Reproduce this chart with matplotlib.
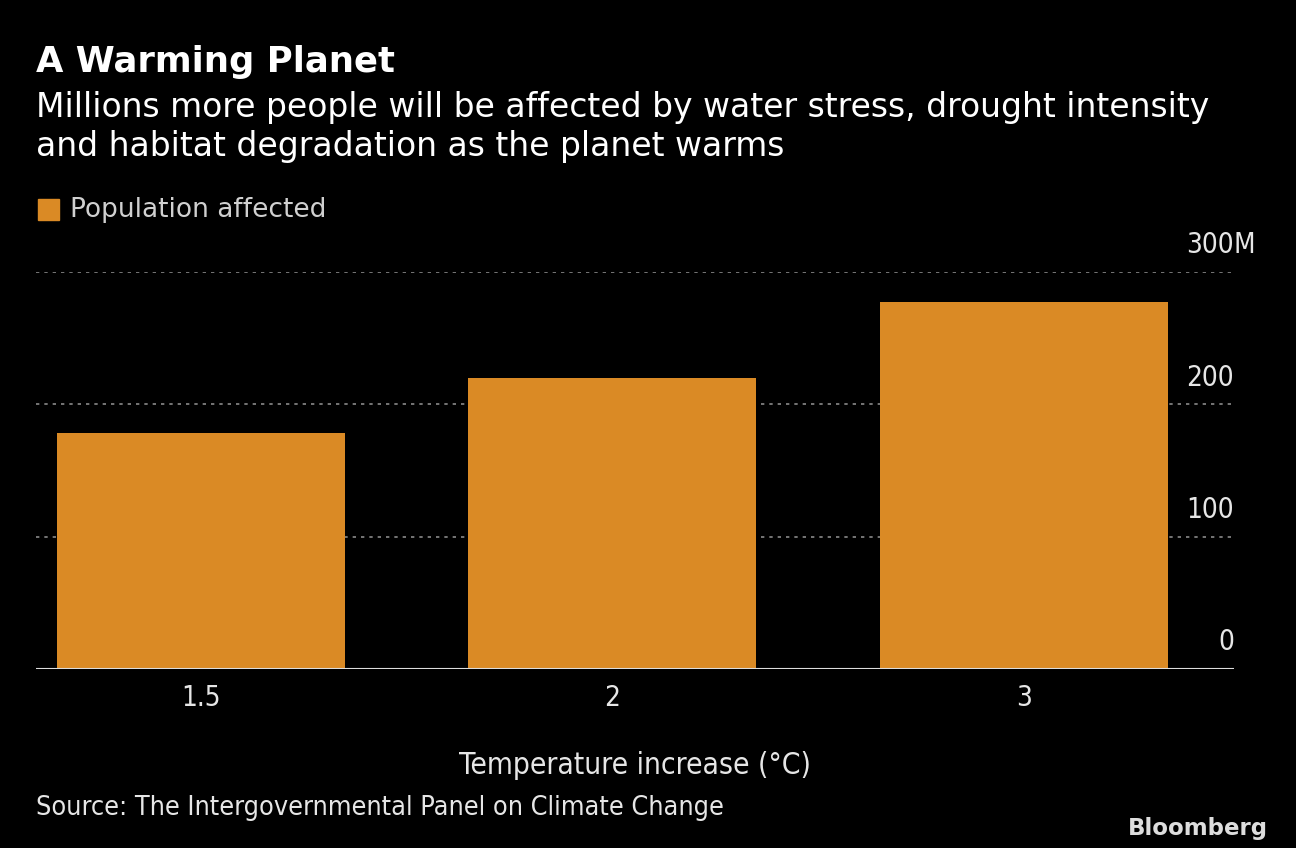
import matplotlib
matplotlib.use("Agg")
import matplotlib.pyplot as plt
import matplotlib.transforms as mtransforms

# data
temps = ["1.5", "2", "3"]
population = [178, 220, 277]  # millions
yticks = [0, 100, 200, 300]

bar_color = "#DA8A25"
txt = "#E6E6E6"
grid_c = "#8A8A8A"

fig = plt.figure(figsize=(12.96, 8.48), dpi=100, facecolor="black")
ax = fig.add_axes([36/1296, 1-669/848, (1234-36)/1296, (669-272)/848])
ax.set_facecolor("black")

x = range(len(temps))
ax.bar(x, population, width=0.7, color=bar_color, zorder=2)
ax.set_xlim(-0.4, 2.51)
ax.set_ylim(0, 300)

for s in ax.spines.values():
    s.set_visible(False)
ax.axhline(0, color="#DDDDDD", lw=1.5, zorder=3)
for v in yticks[1:]:
    ax.axhline(v, color=grid_c, lw=1.2, ls=(0, (2, 3)), zorder=1)

ax.set_yticks([])
ax.set_xticks(list(x))
ax.set_xticklabels(temps, fontsize=20, color=txt, fontstretch="condensed")
ax.tick_params(axis="x", length=0, pad=11)

tr = mtransforms.blended_transform_factory(ax.transAxes, ax.transData)
off = mtransforms.offset_copy(tr, fig=fig, x=0, y=9, units="points")
for v in yticks:
    ax.text(1.0, v, str(v), transform=off, ha="right", va="bottom",
            fontsize=20, color=txt, fontstretch="condensed")
ax.text(1.0, 300, "M", transform=off, ha="left", va="bottom",
        fontsize=20, color=txt, fontstretch="condensed")

ax.set_xlabel("Temperature increase (°C)", fontsize=21.5, color=txt,
              labelpad=28, fontstretch="condensed")

fig.text(36/1296, 1-62/848, "A Warming Planet", fontsize=25.5, fontweight="bold",
         color="white", va="center", ha="left")
fig.text(36/1296, 1-127/848,
         "Millions more people will be affected by water stress, drought intensity\n"
         "and habitat degradation as the planet warms",
         fontsize=23.8, color="white", va="center", ha="left", linespacing=1.2)

fig.patches.append(plt.Rectangle((38/1296, 1-220/848), 21/1296, 21/848,
                                 transform=fig.transFigure, color=bar_color))
fig.text(70/1296, 1-210/848, "Population affected", fontsize=19, color="#D0D0D0",
         va="center", ha="left")

fig.text(36/1296, 1-808/848, "Source: The Intergovernmental Panel on Climate Change",
         fontsize=19.4, color=txt, va="center", ha="left", fontstretch="condensed")
fig.text(1268/1296, 1-828/848, "Bloomberg", fontsize=16.5, fontweight="bold",
         color="#DDDDDD", va="center", ha="right")

fig.savefig("out.png", dpi=100, facecolor="black")
